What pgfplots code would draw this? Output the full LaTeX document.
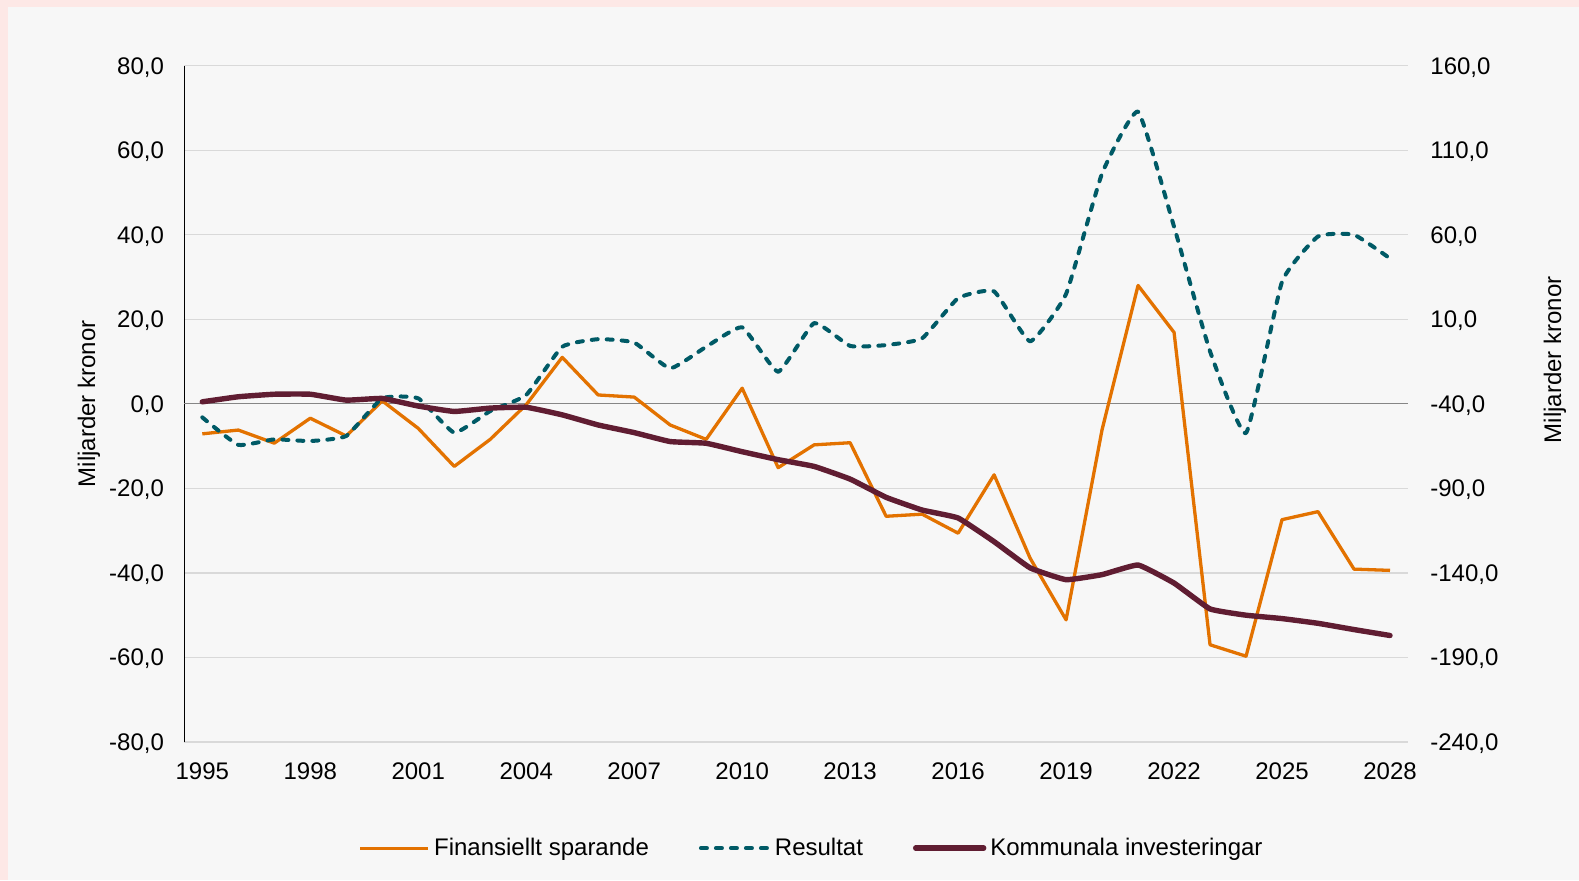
\documentclass[border=0pt]{standalone}
\usepackage{pgfplots}
\pgfplotsset{compat=1.18}
\usepackage{fontspec}
\setmainfont{Liberation Sans}
\definecolor{cOrange}{RGB}{227,114,0}
\definecolor{cTeal}{RGB}{0,90,102}
\definecolor{cMaroon}{RGB}{96,29,50}
\definecolor{cPink}{RGB}{253,232,230}
\definecolor{cBg}{RGB}{247,247,247}
\definecolor{cGrid}{RGB}{217,217,217}
\definecolor{cZero}{RGB}{134,134,134}
\newcommand{\chartfont}{\fontsize{12}{14.4}\selectfont}

\pgfplotstableread{
year fin res
1995 -7.1 -3.2
1996 -6.2 -9.7
1997 -9.3 -8.4
1998 -3.4 -8.8
1999 -7.6 -7.6
2000 0.7 1.3
2001 -5.8 1.3
2002 -14.8 -6.8
2003 -8.4 -1.7
2004 -0.2 2.1
2005 11.0 13.5
2006 2.1 15.3
2007 1.6 14.5
2008 -5.0 8.4
2009 -8.4 13.5
2010 3.7 18.1
2011 -15.1 7.6
2012 -9.7 19.1
2013 -9.2 13.7
2014 -26.6 13.9
2015 -26.1 15.5
2016 -30.6 25.0
2017 -16.8 26.6
2018 -36.5 14.8
2019 -51.1 26.0
2020 -6.1 54.5
2021 28.0 69.1
2022 16.9 41.9
2023 -57.0 12.4
2024 -59.7 -6.9
2025 -27.4 28.9
2026 -25.5 39.6
2027 -39.1 40.0
2028 -39.4 34.4
}\leftdata

\pgfplotstableread{
year inv
1995 -38.8
1996 -35.8
1997 -34.3
1998 -34.3
1999 -37.8
2000 -36.8
2001 -41.3
2002 -44.5
2003 -42.5
2004 -42.0
2005 -46.5
2006 -52.5
2007 -57.0
2008 -62.3
2009 -63.3
2010 -68.3
2011 -73.0
2012 -77.0
2013 -84.5
2014 -95.3
2015 -102.8
2016 -107.5
2017 -121.5
2018 -137.0
2019 -144.0
2020 -141.0
2021 -135.3
2022 -146.0
2023 -161.3
2024 -165.0
2025 -167.0
2026 -169.8
2027 -173.5
2028 -177.0
}\rightdata

\tikzset{
  finstyle/.style={cOrange, line width=1.65pt, line join=round},
  resstyle/.style={cTeal, line width=2pt, line cap=round, line join=round, dash pattern=on 3pt off 4.5pt},
  invstyle/.style={cMaroon, line width=2.7pt, line cap=round, line join=round},
}

\begin{document}
\begin{tikzpicture}
\fill[cPink] (0,0) rectangle (789.5pt,440pt);
\fill[cBg] (4pt,0) rectangle (789.5pt,436.5pt);

\begin{axis}[
  scale only axis, width=611.85pt, height=338.15pt,
  at={(92.15pt,69pt)}, anchor=south west,
  xmin=1994.5, xmax=2028.5, ymin=-80, ymax=80,
  ytick={-80,-60,...,80},
  xtick={1995,1998,...,2028},
  xticklabels={1995,1998,2001,2004,2007,2010,2013,2016,2019,2022,2025,2028},
  axis x line*=bottom, axis y line*=left,
  x axis line style={draw=none},
  y axis line style={draw=black, line width=0.6pt, -},
  major tick length=0pt,
  ymajorgrids, major grid style={cGrid, line width=0.6pt},
  extra y ticks={0}, extra y tick labels={},
  extra y tick style={ymajorgrids=true, major grid style={cZero, line width=0.6pt}},
  yticklabel style={font=\chartfont, anchor=east, inner sep=0pt, text depth=0pt, xshift=-10pt,
    /pgf/number format/.cd, fixed, fixed zerofill, precision=1, use comma, assume math mode=true},
  xticklabel style={font=\chartfont, anchor=north, inner sep=0pt, yshift=-10.3pt},
  ylabel={Miljarder kronor},
  every axis y label/.style={at={(axis description cs:-0.0779,0.5)}, rotate=90, anchor=center, font=\chartfont},
]
\addplot[finstyle] table[x=year, y=fin] {\leftdata};
\addplot[resstyle, smooth, tension=0.25] table[x=year, y=res] {\leftdata};
\end{axis}

\begin{axis}[
  scale only axis, width=611.85pt, height=338.15pt,
  at={(92.15pt,69pt)}, anchor=south west,
  xmin=1994.5, xmax=2028.5, ymin=-240, ymax=160,
  ytick={-240,-190,...,160},
  axis x line=none, axis y line*=right,
  y axis line style={draw=none},
  major tick length=0pt,
  yticklabel style={font=\chartfont, anchor=west, inner sep=0pt, text depth=0pt, xshift=11pt,
    /pgf/number format/.cd, fixed, fixed zerofill, precision=1, use comma, assume math mode=true},
  ylabel={Miljarder kronor},
  every axis y label/.style={at={(axis description cs:1.1201,0.565)}, rotate=90, anchor=center, font=\chartfont},
  legend image code/.code={\draw[#1] (0pt,0pt) -- (34pt,0pt);},
  legend columns=3,
  legend cell align=left,
  legend style={at={(axis description cs:0.5135,-0.157)}, anchor=center, draw=none, fill=none,
    font=\chartfont, /tikz/every even column/.append style={column sep=23pt}},
]
\addlegendimage{finstyle}
\addlegendentry{Finansiellt sparande}
\addlegendimage{resstyle}
\addlegendentry{Resultat}
\addplot[invstyle, smooth, tension=0.2] table[x=year, y=inv] {\rightdata};
\addlegendentry{Kommunala investeringar}
\end{axis}
\pgfresetboundingbox
\useasboundingbox (0,0) rectangle (789.5pt,440pt);
\end{tikzpicture}
\end{document}
